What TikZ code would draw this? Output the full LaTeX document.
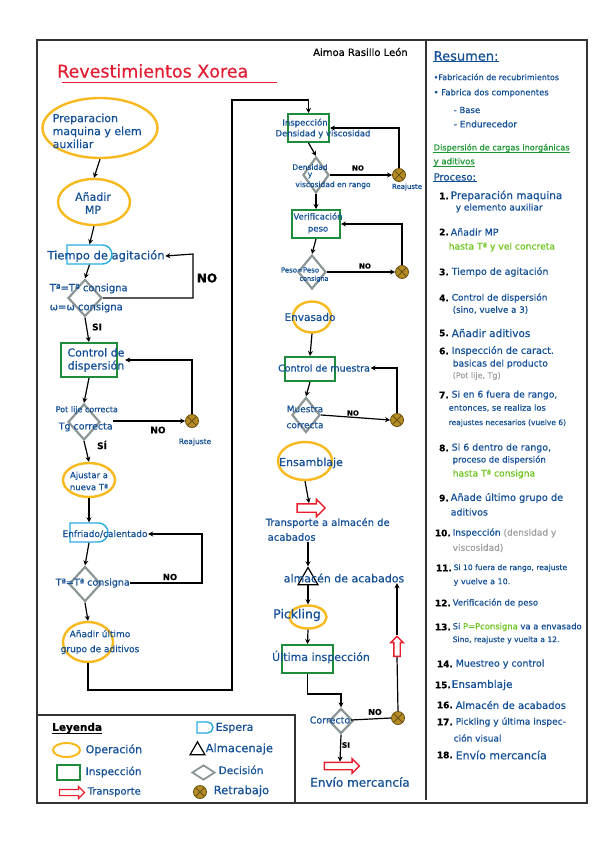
\documentclass[tikz,border=0pt]{standalone}
\usepackage{fontspec}
\setmainfont{DejaVu Sans}
\newfontfamily\hand{DejaVu Sans}[FakeBold=0.6]
\usetikzlibrary{shapes.geometric,shapes.misc,shapes.arrows,arrows.meta}
\definecolor{tblue}{RGB}{20,80,150}
\definecolor{orng}{RGB}{247,185,30}
\definecolor{grn}{RGB}{30,140,60}
\definecolor{gry}{RGB}{140,150,150}
\definecolor{rd}{RGB}{232,30,45}
\definecolor{cyn}{RGB}{40,170,225}
\definecolor{rwf}{RGB}{180,140,35}
\definecolor{rwd}{RGB}{105,80,15}
\definecolor{hgrn}{RGB}{30,150,50}
\definecolor{lime}{RGB}{110,195,30}
\definecolor{gtxt}{RGB}{160,160,160}
\definecolor{tred}{RGB}{225,30,50}
\newcommand\myfs[2]{\hand\fontsize{#1}{#2}\selectfont}
\begin{document}
\begin{tikzpicture}[x=1pt,y=-1pt,
  txt/.style={text=tblue, inner sep=0.5pt},
  lbl/.style={text=black, inner sep=0pt},
  arr/.style={-{Stealth[length=5pt,width=5pt]}, line width=1.2pt, black},
  plain/.style={line width=1.2pt, black},
  op/.style={ellipse, draw=orng, line width=2.4pt, inner sep=0pt},
  insp/.style={rectangle, draw=grn, line width=2pt, inner sep=0pt},
  dec/.style={diamond, draw=gry, line width=2.2pt, inner sep=0pt},
  esp/.style={rounded rectangle, rounded rectangle left arc=none, draw=cyn, line width=1.4pt, inner sep=0pt},
  rw/.style={circle, draw=rwd, fill=rwf, line width=0.8pt, minimum size=13pt, inner sep=0pt,
    path picture={\draw[rwd, line width=1pt] (path picture bounding box.north west) -- (path picture bounding box.south east) (path picture bounding box.south west) -- (path picture bounding box.north east);}},
  trn/.style={single arrow, draw=rd, line width=1.4pt, inner xsep=0pt, inner ysep=3.5pt, single arrow head extend=4.5pt, single arrow head indent=0pt},
  alm/.style={regular polygon, regular polygon sides=3, draw=black, line width=1.2pt, inner sep=0pt},
  sm/.style={txt, anchor=west},
  num/.style={lbl, anchor=east, font=\bfseries\myfs{9}{10}}
]
\useasboundingbox (0,0) rectangle (599,848);
% frame
\draw[line width=2pt, black!80] (37,40) rectangle (587,803);
\draw[line width=1.5pt, black!80] (426,40) -- (426,800);
\draw[line width=1.5pt, black!80] (37,715) -- (295,715) -- (295,803);

% title
\node[anchor=west, text=tred, inner sep=0pt, font=\myfs{17.5}{18}] (title) at (57,71) {Revestimientos Xorea};
\draw[tred, line width=1pt] (62,83) -- (277,83);
\node[anchor=west, lbl, font=\myfs{10}{11}] (autor) at (313,52) {Aimoa Rasillo León};

% ===== left column =====
\node[op, minimum width=115pt, minimum height=60pt] (prep) at (100,128) {};
\node[txt, anchor=west, align=left, font=\myfs{11}{13}] (tprep) at (52,131) {Preparacion\\maquina y elem\\auxiliar};

\node[op, minimum width=72pt, minimum height=46pt] (mp) at (94,202) {};
\node[txt, align=center, font=\myfs{11}{13}] (tmp) at (93,203) {Añadir\\MP};

\node[esp, minimum width=45pt, minimum height=19pt] (esp1) at (89.5,254.5) {};
\node[txt, font=\myfs{11.5}{13}] (ttiempo) at (106,256) {Tiempo de agitación};

\node[dec, minimum width=34pt, minimum height=37pt] (d1) at (85,298) {};
\node[txt, anchor=west, align=left, font=\myfs{10}{19}] (td1) at (49,298) {Tª=Tª consigna\\ω=ω consigna};
\node[lbl, font=\bfseries\myfs{12}{12}] (no1) at (207,278) {NO};
\coordinate (k1) at (193,254);

\node[insp, minimum width=56pt, minimum height=34pt] (c1) at (89,360) {};
\node[txt, align=center, font=\myfs{11}{13}] (tc1) at (96,360) {Control de\\dispersión};
\node[lbl, font=\bfseries\myfs{9}{10}] (si1) at (97,327) {SI};

\node[dec, minimum width=32pt, minimum height=36pt] (d2) at (84,422) {};
\node[txt, anchor=west, font=\myfs{8}{9}] (td2a) at (55,410) {Pot lije correcta};
\node[txt, anchor=west, font=\myfs{9.5}{10}] (td2b) at (58,427) {Tg correcta};
\node[rw] (rw1) at (192,421) {};
\node[txt, font=\myfs{7.5}{8}] (trw1) at (195,442) {Reajuste};
\node[lbl, font=\bfseries\myfs{9}{10}] (no2) at (158,430) {NO};
\node[lbl, font=\bfseries\myfs{9}{10}] (si2) at (102,445) {SÍ};

\node[op, minimum width=52pt, minimum height=34pt] (aj) at (89,480) {};
\node[txt, align=center, font=\myfs{8.5}{12}] (taj) at (89,481) {Ajustar a\\nueva Tª};

\node[esp, minimum width=38pt, minimum height=19pt] (esp2) at (89,532.5) {};
\node[txt, font=\myfs{9}{10}] (tenf) at (105,534) {Enfriado/calentado};

\node[dec, minimum width=32pt, minimum height=35pt] (d3) at (85,584) {};
\node[txt, anchor=west, font=\myfs{9.5}{10}] (td3) at (55,583) {Tª=Tª consigna};
\node[lbl, font=\bfseries\myfs{8.5}{9}] (no3) at (170,577) {NO};
\coordinate (k3) at (202,534);

\node[op, minimum width=50pt, minimum height=40pt] (ult) at (88,642) {};
\node[txt, align=center, font=\myfs{9}{15}] (tult) at (100,642) {Añadir último\\grupo de aditivos};
\coordinate (k4) at (232,690);
\coordinate (k5) at (232,100);

% left connectors
\draw[arr] (prep.south) -- (mp.north);
\draw[arr] (mp.south) -- (esp1.north);
\draw[arr] (esp1.south) -- (d1.north);
\draw[arr] (d1.east) -| (k1) -- (ttiempo.east);
\draw[arr] (d1.south) -- (c1.north);
\draw[arr] (c1.south) -- (d2.north);
\draw[arr] (td2b.east |- rw1.west) -- (rw1.west);
\draw[arr] (rw1.north) |- (tc1.east);
\draw[arr] (d2.south) -- (aj.north);
\draw[arr] (aj.south) -- (esp2.north);
\draw[arr] (esp2.south) -- (d3.north);
\draw[arr] (td3.east) -| (k3) -- (tenf.east);
\draw[arr] (d3.south) -- (ult.north);

% ===== middle column =====
\node[insp, minimum width=41pt, minimum height=28pt] (insp1) at (308.5,128) {};
\node[txt, font=\myfs{8.5}{10}] (tinsp1a) at (305,123) {Inspección};
\node[txt, font=\myfs{8.5}{10}] (tinsp1b) at (323,134) {Densidad y viscosidad};
\draw[arr] (ult.south) |- (k4) -- (k5) -| (insp1.north);

\node[dec, minimum width=26pt, minimum height=36pt] (d4) at (316,175) {};
\node[txt, font=\myfs{7.5}{8}] (td4a) at (310,167) {Densidad};
\node[txt, font=\myfs{7.5}{8}] (td4b) at (310,175.5) {y};
\node[txt, font=\myfs{7.5}{8}] (td4c) at (333,185) {viscosidad en rango};
\node[rw] (rwA) at (399,175) {};
\node[txt, font=\myfs{7}{8}] (trwA) at (407,187) {Reajuste};
\node[lbl, font=\bfseries\myfs{7}{8}] (noA) at (358,168) {NO};

\node[insp, minimum width=48pt, minimum height=28pt] (ver) at (316,224) {};
\node[txt, align=center, font=\myfs{8.5}{12}] (tver) at (318,223) {Verificación\\peso};

\node[dec, minimum width=28pt, minimum height=34pt] (d5) at (312,272) {};
\node[txt, font=\myfs{7}{8}] (td5a) at (300,270) {Peso=Peso};
\node[txt, font=\myfs{6.5}{8}] (td5b) at (314,279) {consigna};
\node[rw] (rwB) at (402,272) {};
\node[lbl, font=\bfseries\myfs{7}{8}] (noB) at (365,266) {NO};

\node[op, minimum width=38pt, minimum height=31pt] (env) at (312,317) {};
\node[txt, font=\myfs{10.5}{12}] (tenv) at (310,317) {Envasado};

\node[insp, minimum width=50pt, minimum height=24pt] (cm) at (310,369) {};
\node[txt, font=\myfs{9.5}{12}] (tcm) at (324,368) {Control de muestra};

\node[dec, minimum width=28pt, minimum height=35pt] (d6) at (306,415) {};
\node[txt, align=center, font=\myfs{9}{16}] (td6) at (305,417) {Muestra\\correcta};
\node[rw] (rwC) at (397,420) {};
\node[lbl, font=\bfseries\myfs{7}{8}] (noC) at (353,413) {NO};

\node[op, minimum width=54pt, minimum height=38pt] (ens) at (305,461) {};
\node[txt, font=\myfs{11}{12}] (tens) at (311,463) {Ensamblaje};

\node[trn, minimum height=28pt] (tr1) at (309,508) {};
\node[txt, anchor=west, font=\myfs{10}{12}] (ttr1) at (265,523) {Transporte a almacén de};
\node[txt, anchor=west, font=\myfs{10}{12}] (ttr2) at (267,537) {acabados};

\node[alm, minimum size=23pt] (tri) at (308,579) {};
\node[txt, font=\myfs{11}{12}] (talm) at (344,578) {almacén de acabados};

\node[op, minimum width=37pt, minimum height=23pt] (pick) at (308,617) {};
\node[txt, font=\myfs{12.5}{13}] (tpick) at (297,615) {Pickling};

\node[insp, minimum width=51pt, minimum height=28pt] (ulti) at (307.5,659) {};
\node[txt, font=\myfs{11}{12}] (tulti) at (321,657) {Última inspección};

\node[dec, minimum width=24pt, minimum height=25pt] (d7) at (341,721) {};
\node[txt, font=\myfs{9.5}{12}] (td7) at (330,720) {Correcto};
\node[rw] (rwD) at (398,718) {};
\node[lbl, font=\bfseries\myfs{8}{9}] (noD) at (375,712) {NO};
\node[lbl, font=\bfseries\myfs{7.5}{8}] (siD) at (346,745) {SI};
\node[trn, minimum height=20pt, rotate=90, inner ysep=2.5pt, single arrow head extend=3pt] (tr2) at (397,648) {};
\node[trn, minimum height=35pt, inner ysep=3pt, single arrow head extend=3.5pt] (tr3) at (340,766) {};
\node[txt, font=\myfs{12}{13}] (tenvio) at (360,782) {Envío mercancía};

% middle connectors
\draw[arr] (insp1.south) -- (d4.north);
\draw[arr] (d4.east) -- (rwA.west);
\draw[arr] (rwA.north) |- (insp1.east);
\draw[arr] (d4.south) -- (ver.north);
\draw[arr] (rwB.north) |- (ver.east);
\draw[arr] (ver.south) -- (d5.north);
\draw[arr] (d5.east) -- (rwB.west);
\draw[arr] (env.south) -- (cm.north);
\draw[arr] (rwC.north) |- (tcm.east);
\draw[arr] (cm.south) -- (d6.north);
\draw[arr] (d6.east) -- (rwC.west);
\draw[arr] (ens.south) -- (tr1.north);
\draw[arr] (ttr2.south -| tri.north) -- (tri.north);
\draw[arr] (tri.south) -- (pick.north);
\draw[arr] (pick.south) -- (ulti.north);
\draw[arr] (ulti.south) -- ++(0,20) -| (d7.north);
\draw[plain] (td7.east) -- (rwD.west);
\draw[plain] (rwD.north) -- (tr2.west);
\draw[arr] (tr2.tip) -- (tr2.tip |- talm.south);
\draw[arr] (d7.south) -- (tr3.north);

% ===== right column =====
\node[sm, font=\myfs{13}{14}] (tres) at (433,56) {Resumen:};
\draw[tblue, line width=0.9pt] (tres.south west) -- (tres.south east);
\node[sm, font=\myfs{8}{9}] (r1) at (433,77) {•Fabricación de recubrimientos};
\node[sm, font=\myfs{8.4}{9}] (r2) at (433,93) {• Fabrica dos componentes};
\node[sm, font=\myfs{8.5}{9}] (r3) at (453,110) {- Base};
\node[sm, font=\myfs{9}{10}] (r4) at (453,124) {- Endurecedor};
\node[sm, text=hgrn, font=\myfs{8.2}{9}] (r5) at (433,148) {Dispersión de cargas inorgánicas};
\draw[hgrn, line width=0.8pt] (r5.south west) -- (r5.south east);
\node[sm, text=hgrn, font=\myfs{8.5}{9}] (r6) at (433,162) {y aditivos};
\draw[hgrn, line width=0.8pt] (r6.south west) -- (r6.south east);
\node[sm, font=\myfs{10}{11}] (r7) at (433,177) {Proceso:};
\draw[tblue, line width=0.8pt] (r7.south west) -- (r7.south east);

\node[num] (n1) at (449,196) {1.};
\node[sm, font=\myfs{10.5}{11}] (s1a) at (450,196) {Preparación maquina};
\node[sm, font=\myfs{9}{10}] (s1b) at (455,208) {y elemento auxiliar};
\node[num] (n2) at (449,232) {2.};
\node[sm, font=\myfs{9.5}{10}] (s2a) at (450,232) {Añadir MP};
\node[sm, text=lime, font=\myfs{9.2}{10}] (s2b) at (448,247) {hasta Tª y vel concreta};
\node[num] (n3) at (449,272) {3.};
\node[sm, font=\myfs{9.5}{10}] (s3) at (451,272) {Tiempo de agitación};
\node[num] (n4) at (449,298) {4.};
\node[sm, font=\myfs{9}{10}] (s4a) at (451,298) {Control de dispersión};
\node[sm, font=\myfs{8.7}{10}] (s4b) at (452,310) {(sino, vuelve a 3)};
\node[num] (n5) at (449,333) {5.};
\node[sm, font=\myfs{10.5}{11}] (s5) at (451,333) {Añadir aditivos};
\node[num] (n6) at (449,351) {6.};
\node[sm, font=\myfs{9.6}{10}] (s6a) at (451,351) {Inspección de caract.};
\node[sm, font=\myfs{9.2}{10}] (s6b) at (452,364) {basicas del producto};
\node[sm, text=gtxt, font=\myfs{8}{9}] (s6c) at (452,376) {(Pot lije, Tg)};
\node[num] (n7) at (449,395) {7.};
\node[sm, font=\myfs{9.2}{10}] (s7a) at (451,395) {Si en 6 fuera de rango,};
\node[sm, font=\myfs{8.3}{9}] (s7b) at (448,408) {entonces, se realiza los};
\node[sm, font=\myfs{7.5}{9}] (s7c) at (448,423) {reajustes necesarios (vuelve 6)};
\node[num] (n8) at (449,448) {8.};
\node[sm, font=\myfs{9.4}{10}] (s8a) at (451,448) {Si 6 dentro de rango,};
\node[sm, font=\myfs{8.5}{9}] (s8b) at (452,460) {proceso de dispersión};
\node[sm, text=lime, font=\myfs{9.2}{10}] (s8c) at (452,474) {hasta Tª consigna};
\node[num] (n9) at (449,498) {9.};
\node[sm, font=\myfs{9.8}{10}] (s9a) at (450,498) {Añade último grupo de};
\node[sm, font=\myfs{9.5}{10}] (s9b) at (450,512) {aditivos};
\node[num] (n10) at (451,533) {10.};
\node[sm, font=\myfs{9}{10}] (s10a) at (452,533) {Inspección \textcolor{gtxt}{(densidad y}};
\node[sm, text=gtxt, font=\myfs{9}{10}] (s10b) at (452,548) {viscosidad)};
\node[num] (n11) at (452,568) {11.};
\node[sm, font=\myfs{7.6}{9}] (s11a) at (453,568) {Si 10 fuera de rango, reajuste};
\node[sm, font=\myfs{8}{9}] (s11b) at (453,582) {y vuelve a 10.};
\node[num] (n12) at (451,603) {12.};
\node[sm, font=\myfs{8.5}{9}] (s12) at (452,603) {Verificación de peso};
\node[num] (n13) at (451,627) {13.};
\node[sm, font=\myfs{8.4}{9}] (s13a) at (452,627) {Si \textcolor{lime}{P=Pconsigna} va a envasado};
\node[sm, font=\myfs{7.6}{9}] (s13b) at (452,640) {Sino, reajuste y vuelta a 12.};
\node[num] (n14) at (453,664) {14.};
\node[sm, font=\myfs{9.5}{10}] (s14) at (455,664) {Muestreo y control};
\node[num] (n15) at (451,685) {15.};
\node[sm, font=\myfs{10.5}{11}] (s15) at (451,685) {Ensamblaje};
\node[num] (n16) at (453,705) {16.};
\node[sm, font=\myfs{10}{11}] (s16) at (455,705) {Almacén de acabados};
\node[num] (n17) at (453,722) {17.};
\node[sm, font=\myfs{9.1}{10}] (s17a) at (455,722) {Pickling y última inspec-};
\node[sm, font=\myfs{9}{10}] (s17b) at (453,738) {ción visual};
\node[num] (n18) at (453,755) {18.};
\node[sm, font=\myfs{11}{12}] (s18) at (455,755) {Envío mercancía};

% ===== legend =====
\node[lbl, anchor=west, font=\bfseries\myfs{10.5}{11}] (tley) at (52,728) {Leyenda};
\draw[black, line width=0.8pt] (tley.south west) -- (tley.south east);
\node[op, line width=2pt, minimum width=27pt, minimum height=14pt] (lop) at (66.5,750) {};
\node[sm, font=\myfs{11}{12}] (tlop) at (85,750) {Operación};
\node[insp, line width=1.8pt, minimum width=23pt, minimum height=15pt] (lin) at (68.5,772.5) {};
\node[sm, font=\myfs{10.5}{12}] (tlin) at (85,772) {Inspección};
\node[trn, minimum height=25pt, inner ysep=2.5pt, single arrow head extend=3pt, line width=1.2pt] (ltr) at (70.5,792.5) {};
\node[sm, font=\myfs{10}{11}] (tltr) at (87,792) {Transporte};
\node[esp, minimum width=16pt, minimum height=11pt] (lesp) at (205,727.5) {};
\node[sm, font=\myfs{11}{12}] (tlesp) at (215,728) {Espera};
\node[alm, minimum size=17.3pt] (lalm) at (197.5,750.5) {};
\node[sm, font=\myfs{11.5}{12}] (tlalm) at (205,749) {Almacenaje};
\node[dec, line width=1.8pt, minimum width=23pt, minimum height=15pt] (ldec) at (203.5,772.5) {};
\node[sm, font=\myfs{10.5}{12}] (tldec) at (218,770) {Decisión};
\node[rw] (lrw) at (200,792) {};
\node[sm, font=\myfs{11.5}{12}] (tlrw) at (213,791) {Retrabajo};
\end{tikzpicture}
\end{document}
